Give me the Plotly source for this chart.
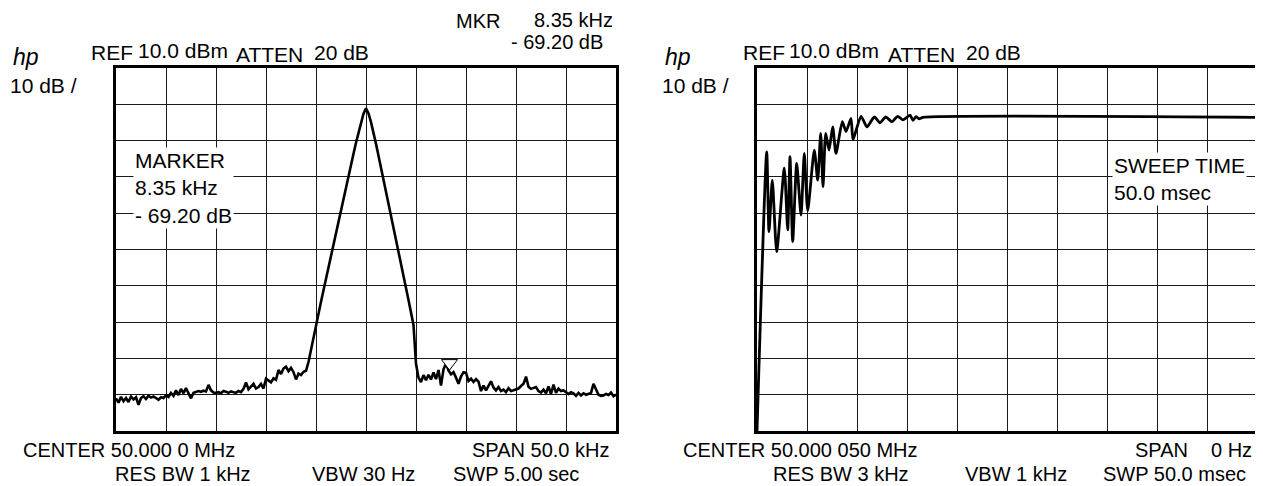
import plotly.graph_objects as go

W, H = 1263, 486

# ---------------- data ----------------
# Left panel: spectrum around CENTER 50.000 0 MHz, offset in kHz, 0.25 kHz sweep steps
step_khz = 0.25
left_noise_start_khz = -25.0
left_noise_dbm = [
    -81.0, -82.2, -80.6, -81.8, -80.9, -82.0, -80.5, -81.3,
    -80.7, -82.8, -80.9, -80.4, -81.2, -80.3, -80.8, -80.5,
    -80.9, -81.4, -80.7, -80.9, -80.2, -80.6, -79.5, -80.3,
    -78.8, -80.1, -78.4, -79.6, -78.2, -79.4, -81.0, -79.5,
    -79.3, -79.0, -79.2, -78.9, -79.1, -77.3, -78.8, -79.4,
    -79.5, -79.3, -79.6, -79.0, -79.2, -79.5, -79.1, -79.4,
    -79.5, -79.0, -79.3, -78.4, -76.6, -78.5, -77.8, -77.0,
    -78.3, -77.9, -77.0, -78.3, -75.6, -76.2, -76.6, -75.5,
    -75.9, -73.2, -74.3, -72.8, -72.3, -73.5, -72.6, -73.8,
    -75.8, -74.2, -74.6, -73.7, -73.4,
]
peak_start_khz = -5.75
peak_dbm = [
    -71.0, -67.5, -64.3, -61.0, -57.6, -54.4, -51.2, -48.0,
    -44.8, -41.6, -38.4, -35.2, -32.0, -28.9, -25.8, -22.7,
    -19.7, -16.6, -13.6, -10.6, -7.7, -5.0, -2.6, -1.1,
    -2.5, -4.9, -7.7, -10.9, -14.2, -17.6, -20.9, -24.2,
    -27.5, -30.8, -34.1, -37.4, -40.7, -44.0, -47.3, -50.6,
    -53.9, -57.2, -60.8, -71.5,
]
right_noise_start_khz = 5.25
right_noise_dbm = [
    -75.3, -76.5, -74.6, -76.0, -74.5, -75.8, -73.9, -75.7,
    -73.2, -77.5, -73.0, -71.4, -73.3, -74.4, -73.8, -75.3,
    -77.0, -75.0, -73.8, -74.0, -76.2, -75.6, -76.5, -75.7,
    -76.4, -79.0, -77.5, -78.8, -77.6, -76.3, -78.0, -78.8,
    -77.9, -79.0, -78.6, -79.3, -78.2, -79.0, -78.8, -78.6,
    -78.3, -77.6, -77.0, -75.0, -77.8, -78.4, -78.2, -77.9,
    -79.0, -79.4, -78.6, -79.6, -77.7, -79.8, -77.2, -79.5,
    -78.3, -79.0, -78.8, -79.2, -79.8, -79.3, -79.6, -80.3,
    -79.5, -80.2, -79.6, -80.0, -79.7, -79.5, -77.0, -78.5,
    -80.0, -80.3, -80.2, -79.8, -80.1, -79.4, -80.4, -80.0,
]
marker_khz = [8.35]
marker_dbm = [-71.3]

# Right panel: zero span, time in ms
sweep_ms = [0.0, 0.97, 1.2, 1.53, 1.97, 2.73, 3.07, 3.3, 3.57, 3.97, 4.4, 4.73,
            5.07, 5.73, 6.07, 6.37, 6.6, 6.87, 7.2, 7.57, 7.9, 8.53, 8.9, 9.4,
            9.6, 10.4, 11.0, 11.73, 12.3, 12.87, 13.5, 14.07, 14.6, 15.3, 15.6,
            15.9, 16.2, 16.6, 50.0]
sweep_dbm = [-90.0, -13.1, -35.1, -20.9, -40.6, -17.6, -34.6, -14.4, -37.8, -16.3, -30.5, -13.5,
             -29.3, -12.6, -20.9, -8.0, -22.7, -8.0, -12.6, -6.2, -13.5, -4.8, -7.5, -3.9,
             -9.8, -3.3, -6.2, -3.5, -5.1, -3.5, -4.8, -3.3, -4.3, -3.0, -4.4,
             -3.4, -4.0, -3.6, -3.6]

# Texts
left_header = ["REF", "10.0 dBm", "ATTEN", "20 dB"]
left_mkr = ["MKR", "8.35 kHz", "- 69.20 dB"]
left_marker_box = "MARKER<br>8.35 kHz<br>- 69.20 dB"
left_footer = ["CENTER 50.000 0 MHz", "RES BW 1 kHz", "VBW 30 Hz", "SPAN 50.0 kHz", "SWP 5.00 sec"]
right_header = ["REF", "10.0 dBm", "ATTEN", "20 dB"]
right_box = "SWEEP TIME<br>50.0 msec"
right_footer = ["CENTER 50.000 050 MHz", "RES BW 3 kHz", "VBW 1 kHz", "SPAN", "0 Hz", "SWP 50.0 msec"]
logo = "hp"
scale_txt = "10 dB /"

# ---------------- figure ----------------
def seg(start, vals):
    return [start + i * step_khz for i in range(len(vals))]

spec_x = seg(left_noise_start_khz, left_noise_dbm) + seg(peak_start_khz, peak_dbm) + seg(right_noise_start_khz, right_noise_dbm)
spec_y = left_noise_dbm + peak_dbm + right_noise_dbm

fig = go.Figure()
fig.add_trace(go.Scatter(x=spec_x, y=spec_y, mode="lines",
                         line=dict(color="black", width=2.6), xaxis="x", yaxis="y",
                         showlegend=False, hoverinfo="skip"))
fig.add_trace(go.Scatter(x=marker_khz, y=marker_dbm, mode="markers",
                         marker=dict(symbol="triangle-down", size=14, color="white",
                                     line=dict(color="black", width=1)),
                         xaxis="x", yaxis="y", showlegend=False, hoverinfo="skip"))
fig.add_trace(go.Scatter(x=sweep_ms, y=sweep_dbm, mode="lines",
                         line=dict(color="black", width=2.8, shape="spline", smoothing=0.6),
                         xaxis="x2", yaxis="y2", showlegend=False, hoverinfo="skip"))

OFF = 8  # page body margin

def px_x(x):
    return (x - OFF) / W

def px_y(y):
    return 1 - (y - OFF) / H

ax_common = dict(showticklabels=False, ticks="", zeroline=False, showgrid=True,
                 gridcolor="#1a1a1a", gridwidth=1, showline=True, linecolor="black",
                 linewidth=3, mirror=True, fixedrange=True)

fig.update_layout(
    width=W, height=H,
    margin=dict(l=0, r=0, t=0, b=0),
    paper_bgcolor="white", plot_bgcolor="white",
    xaxis=dict(domain=[px_x(116), px_x(616)], range=[-25, 25], dtick=5, anchor="y", **ax_common),
    yaxis=dict(domain=[px_y(431), px_y(68)], range=[-90, 10], dtick=10, anchor="x", **ax_common),
    xaxis2=dict(domain=[px_x(757), px_x(1257)], range=[0, 50], dtick=5, anchor="y2", **ax_common),
    yaxis2=dict(domain=[px_y(431), px_y(68)], range=[-90, 10], dtick=10, anchor="x2", **ax_common),
)

FONT = dict(family="Liberation Sans, Arial, sans-serif", size=21, color="black")

def ann(text, x, y, bg=None, size=None, anchor="left", pad=0):
    f = dict(FONT)
    if size:
        f["size"] = size
    d = dict(text=text, x=px_x(x), y=px_y(y), xref="paper", yref="paper",
             xanchor=anchor, yanchor="middle", showarrow=False, font=f, align="left",
             borderpad=pad)
    if bg:
        d.update(bgcolor=bg, borderpad=1)
    fig.add_annotation(**d)

# Left panel texts
ann("<i>" + logo + "</i>", 12, 57, size=23)
ann(scale_txt, 9, 85)
for t, x, y in zip(left_header, [90, 137, 235, 313], [52, 51, 54, 52]):
    ann(t, x, y)
for t, x, y in zip(left_mkr, [455, 533, 510], [21, 20, 42]):
    ann(t, x, y, size=20)
ann(left_marker_box, 133, 188, bg="white")
for t, x, y in zip(left_footer, [22, 114, 311, 471, 452], [450, 474, 474, 450, 474]):
    ann(t, x, y, size=20)

# Right panel texts
ann("<i>" + logo + "</i>", 664, 57, size=23)
ann(scale_txt, 661, 85)
for t, x, y in zip(right_header, [742, 788, 887, 965], [52, 51, 54, 52]):
    ann(t, x, y)
ann(right_box, 1112, 179, bg="white")
for t, x, y in zip(right_footer, [682, 772, 964, 1134, 1210, 1102], [450, 474, 474, 450, 450, 474]):
    ann(t, x, y, size=20)

fig.write_html("out.html")
